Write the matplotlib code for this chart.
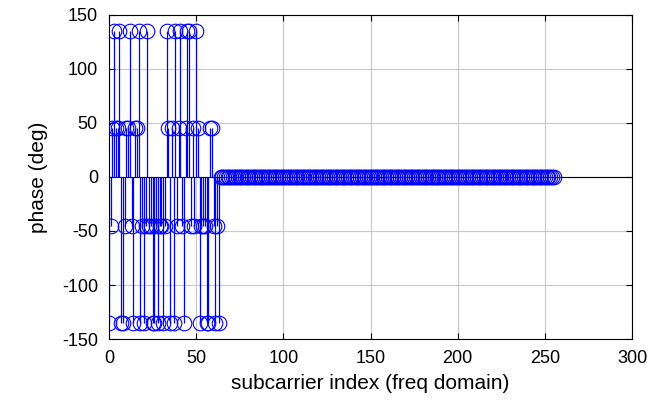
import matplotlib
matplotlib.use("Agg")
import matplotlib.pyplot as plt
import numpy as np

plt.rcParams['font.family'] = ['Liberation Sans', 'DejaVu Sans']
plt.rcParams['axes.unicode_minus'] = False

# phase (deg) of the first 64 subcarriers (QPSK), then zeros
active_phase = [-135, -45, 45, 135, 45, 45, 135, -135, -135, -45,
                45, 45, 135, -45, -135, 45, 45, 135, -135, -45,
                -135, -45, 135, -45, -45, -135, -135, -45, -135, -45,
                -45, -135, -45, 135, 45, -135, 45, -135, 135, -45,
                45, 135, -45, -135, 45, 135, 135, -45, 45, -45,
                135, 45, -135, -45, -45, -45, -135, -135, 45, 45,
                -45, -135, -45, -135]
n_total = 256
zero_phase = [0] * (n_total - len(active_phase))
phase = active_phase + zero_phase
index = list(range(n_total))

x_ticks = [0, 50, 100, 150, 200, 250, 300]
y_ticks = [-150, -100, -50, 0, 50, 100, 150]

fig = plt.figure(figsize=(6.56, 4.07), dpi=100)
ax = fig.add_axes([109/656, 1 - 339/407, (632-109)/656, (339-15)/407])

ax.vlines(index, 0, phase, colors='#0000ff', linewidth=0.9, zorder=2)
ax.plot(index, phase, linestyle='none', marker='o', markerfacecolor='none',
        markeredgecolor='#0000ff', markersize=10.5, markeredgewidth=0.8, zorder=3)
ax.axhline(0, color='black', linewidth=0.8, zorder=1.5)

ax.set_xlim(0, 300)
ax.set_ylim(-150, 150)
ax.set_xticks(x_ticks)
ax.set_yticks(y_ticks)
ax.grid(True, color='#c8c8c8', linewidth=0.8)
ax.set_axisbelow(True)
ax.tick_params(direction='in', top=True, right=True, length=4, labelsize=13, pad=8)
for s in ax.spines.values():
    s.set_linewidth(0.8)
ax.set_xlabel('subcarrier index (freq domain)', fontsize=15, labelpad=5)
ax.set_ylabel('phase (deg)', fontsize=15, labelpad=10)

fig.savefig('out.png', dpi=100)
